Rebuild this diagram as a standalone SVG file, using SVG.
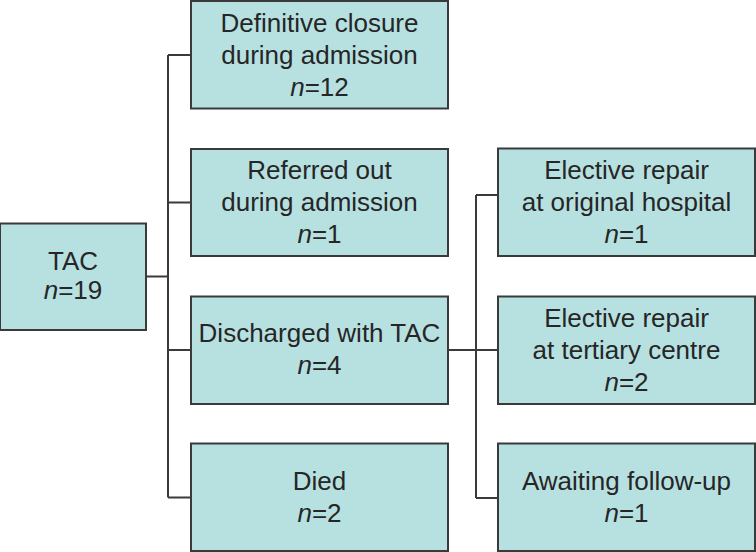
<svg xmlns="http://www.w3.org/2000/svg" width="756" height="552" viewBox="0 0 756 552">
<style>
.box{fill:#b7e1e1;stroke:#3a3a3a;stroke-width:2}
.t{font-family:"Liberation Sans","DejaVu Sans",sans-serif;font-size:26px;fill:#262626;text-anchor:middle}
.i{font-style:italic}
.c{fill:none;stroke:#3a3a3a;stroke-width:2}
</style>
<rect width="756" height="552" fill="#ffffff"/>
<g id="connectors">
<path class="c" d="M146 276.5H168M168 55V497.5M168 55H191M168 202.5H191M168 350H191M168 497.5H191"/>
<path class="c" d="M448 350H498M476 195V498M476 195H498M476 498H498"/>
</g>
<g id="tac">
<rect class="box" x="0" y="223.5" width="146" height="106.5"/>
<text class="t" x="73" y="270">TAC</text>
<text class="t" x="73" y="299"><tspan class="i">n</tspan>=19</text>
</g>
<g id="definitive">
<rect class="box" x="191" y="1" width="257" height="107.5"/>
<text class="t" x="319.5" y="31.5">Definitive closure</text>
<text class="t" x="319.5" y="63.5">during admission</text>
<text class="t" x="319.5" y="95.5"><tspan class="i">n</tspan>=12</text>
</g>
<g id="referred">
<rect class="box" x="191" y="149" width="257" height="107"/>
<text class="t" x="319.5" y="179">Referred out</text>
<text class="t" x="319.5" y="211">during admission</text>
<text class="t" x="319.5" y="243"><tspan class="i">n</tspan>=1</text>
</g>
<g id="discharged">
<rect class="box" x="191" y="296.5" width="257" height="107.5"/>
<text class="t" x="319.5" y="342">Discharged with TAC</text>
<text class="t" x="319.5" y="374"><tspan class="i">n</tspan>=4</text>
</g>
<g id="died">
<rect class="box" x="191" y="443.5" width="257" height="107.5"/>
<text class="t" x="319.5" y="490">Died</text>
<text class="t" x="319.5" y="522"><tspan class="i">n</tspan>=2</text>
</g>
<g id="elective-original">
<rect class="box" x="498" y="148.5" width="257" height="107.5"/>
<text class="t" x="626.5" y="178.5">Elective repair</text>
<text class="t" x="626.5" y="210.5">at original hospital</text>
<text class="t" x="626.5" y="242.5"><tspan class="i">n</tspan>=1</text>
</g>
<g id="elective-tertiary">
<rect class="box" x="498" y="296.5" width="257" height="107.5"/>
<text class="t" x="626.5" y="326.5">Elective repair</text>
<text class="t" x="626.5" y="358.5">at tertiary centre</text>
<text class="t" x="626.5" y="390.5"><tspan class="i">n</tspan>=2</text>
</g>
<g id="awaiting">
<rect class="box" x="498" y="443.5" width="257" height="107.5"/>
<text class="t" x="626.5" y="490">Awaiting follow-up</text>
<text class="t" x="626.5" y="522"><tspan class="i">n</tspan>=1</text>
</g>
</svg>
